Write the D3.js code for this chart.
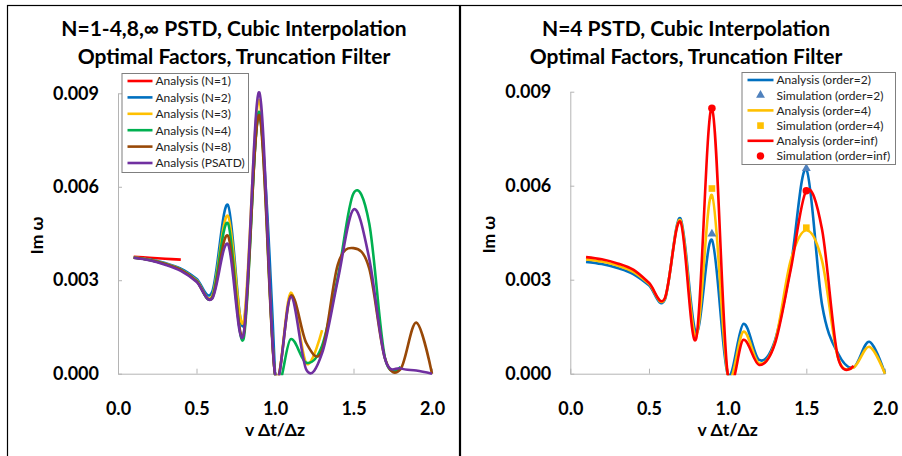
<!DOCTYPE html>
<html>
<head>
<meta charset="utf-8">
<script src="https://cdn.jsdelivr.net/npm/d3@7.9.0/dist/d3.min.js"></script>
<style>
  body { margin: 0; background: #fff; }
  svg { display: block; font-family: Lato, "Open Sans", sans-serif; }
</style>
</head>
<body>
<svg id="chart" width="902" height="456"></svg>
<script>
// x values shared by every series (v Δt/Δz)
const xValues = [0.1, 0.2, 0.3, 0.4, 0.5, 0.6, 0.7, 0.8, 0.9, 1.0,
                 1.1, 1.2, 1.3, 1.4, 1.5, 1.6, 1.7, 1.8, 1.9, 2.0];

const xTicks = [0, 0.5, 1.0, 1.5, 2.0];
const yTicks = [0, 0.003, 0.006, 0.009];

// Left chart: N=1-4,8,inf PSTD
const leftNames = ['Analysis (N=1)', 'Analysis (N=2)', 'Analysis (N=3)',
                   'Analysis (N=4)', 'Analysis (N=8)', 'Analysis (PSATD)'];
const n1 = [0.00375, 0.00372, 0.00369, 0.00366];
const n2 = [0.00373, 0.00367, 0.00355, 0.00337, 0.00305, 0.00263, 0.00542, 0.00156, 0.0083, 0.0];
const n3 = [0.00373, 0.00366, 0.00353, 0.00334, 0.00300, 0.00250, 0.00507, 0.00167, 0.00878, 0.0,
            0.00260, 0.00033, 0.00140];
const n4 = [0.00372, 0.00365, 0.00352, 0.00333, 0.00298, 0.00245, 0.00483, 0.00112, 0.00840, 0.0,
            0.00111, 0.00035, 0.00090, 0.00310, 0.00579, 0.00483, 0.00052, 0.00022];
const n8 = [0.00372, 0.00365, 0.00352, 0.00333, 0.00297, 0.00243, 0.00443, 0.00125, 0.00830, 0.0,
            0.00250, 0.00098, 0.00074, 0.00350, 0.00403, 0.00338, 0.00050, 0.00015, 0.00164, 0.0];
const psatd = [0.00372, 0.00364, 0.00350, 0.00330, 0.00295, 0.00241, 0.00416, 0.00127, 0.00903, 0.0,
               0.00247, 0.00012, 0.00066, 0.00300, 0.00527, 0.00370, 0.00049, 0.00017, 0.00010, 0.0];
const leftColors = ['#ff0000', '#0070c0', '#ffc000', '#00b050', '#984807', '#7030a0'];

// Right chart: N=4 PSTD, filter order
const rightNames = ['Analysis (order=2)', 'Simulation (order=2)', 'Analysis (order=4)',
                    'Simulation (order=4)', 'Analysis (order=inf)', 'Simulation (order=inf)'];
const order2 = [0.00357, 0.00350, 0.00337, 0.00318, 0.00282, 0.00235, 0.00496, 0.00131, 0.00427, 0.0,
                0.00159, 0.00044, 0.00105, 0.00340, 0.00652, 0.00220, 0.00066, 0.00020, 0.00102, 0.0];
const order4 = [0.00365, 0.00358, 0.00345, 0.00325, 0.00287, 0.00238, 0.00490, 0.00120, 0.00570, 0.0,
                0.00134, 0.00033, 0.00100, 0.00360, 0.00458, 0.00360, 0.00054, 0.00020, 0.00086, 0.0];
const orderInf = [0.00372, 0.00365, 0.00352, 0.00332, 0.00290, 0.00240, 0.00485, 0.00112, 0.00847, 0.0,
                  0.00108, 0.00028, 0.00095, 0.00330, 0.00584, 0.00460, 0.00054, 0.00025];
const simX = [0.9, 1.5];
const sim2 = [0.00446, 0.00655];
const sim4 = [0.00591, 0.00466];
const simInf = [0.00847, 0.00584];
const rightColors = ['#0070c0', '#4f81bd', '#ffc000', '#ffc000', '#ff0000', '#ff0000'];

const svg = d3.select('#chart');

// Panel frames
svg.append('rect').attr('x', 7.5).attr('y', 5.5).attr('width', 452).attr('height', 480)
  .attr('fill', 'none').attr('stroke', '#000').attr('stroke-width', 1.2);
svg.append('rect').attr('x', 460.5).attr('y', 5.5).attr('width', 460).attr('height', 480)
  .attr('fill', 'none').attr('stroke', '#000').attr('stroke-width', 1.2);

function toPoints(vals) {
  return vals.map((v, i) => [xValues[i], v]);
}

function drawPanel(cfg) {
  const g = svg.append('g');
  const x = d3.scaleLinear().domain([0, 2]).range([cfg.left, cfg.right]);
  const y = d3.scaleLinear().domain([0, 0.009]).range([cfg.bottom, cfg.top]);

  // titles
  cfg.title.forEach((t, i) => {
    g.append('text')
      .attr('x', cfg.titleX).attr('y', 36 + i * 27.5)
      .attr('text-anchor', 'middle')
      .style('font-weight', 700).style('font-size', '21px')
      .text(t);
  });

  // axes
  const xAxis = g.append('g')
    .attr('transform', `translate(0,${cfg.bottom})`)
    .call(d3.axisBottom(x).tickValues(xTicks).tickFormat(d3.format('.1f'))
      .tickSizeInner(-5).tickSizeOuter(0).tickPadding(29));
  const yAxis = g.append('g')
    .attr('transform', `translate(${cfg.left},0)`)
    .call(d3.axisLeft(y).tickValues(yTicks).tickFormat(d3.format('.3f'))
      .tickSizeInner(-4).tickSizeOuter(0).tickPadding(19));
  [xAxis, yAxis].forEach(a => {
    a.select('.domain').attr('stroke', '#b4b4b4');
    a.selectAll('.tick line').attr('stroke', '#b4b4b4');
    a.selectAll('text').attr('fill', '#000')
      .style('font-family', 'Lato, sans-serif')
      .style('font-weight', 700).style('font-size', '18px');
  });

  g.append('text')
    .attr('x', (cfg.left + cfg.right) / 2).attr('y', 436)
    .attr('text-anchor', 'middle')
    .style('font-weight', 700).style('font-size', '17.5px')
    .text('v Δt/Δz');
  g.append('text')
    .attr('transform', `translate(${cfg.left - 75},${(cfg.top + cfg.bottom) / 2 + 2}) rotate(-90)`)
    .attr('text-anchor', 'middle')
    .style('font-weight', 700).style('font-size', '17.5px')
    .text('Im ω');

  // plot clip
  const clipId = 'clip' + Math.round(cfg.left);
  svg.append('clipPath').attr('id', clipId)
    .append('rect').attr('x', cfg.left).attr('y', cfg.top - 20)
    .attr('width', cfg.right - cfg.left + 10).attr('height', cfg.bottom - cfg.top + 21.5);

  const line = d3.line()
    .x(d => x(d[0])).y(d => y(d[1]))
    .curve(d3.curveCardinal.tension(0));

  const plot = g.append('g').attr('clip-path', `url(#${clipId})`);
  cfg.series.forEach(s => {
    if (s.line) {
      plot.append('path')
        .datum(toPoints(s.values))
        .attr('d', line)
        .attr('fill', 'none')
        .attr('stroke', s.color)
        .attr('stroke-width', 2.6)
        .attr('stroke-linejoin', 'round');
    } else {
      const sym = d3.symbol().type(s.marker).size(s.size);
      g.selectAll(null)
        .data(s.values.map((v, i) => [simX[i], v]))
        .join('path')
        .attr('transform', d => `translate(${x(d[0])},${y(d[1])})`)
        .attr('d', sym)
        .attr('fill', s.color);
    }
  });

  // legend
  const lg = g.append('g');
  lg.append('rect')
    .attr('x', cfg.legend.x + 0.5).attr('y', cfg.legend.y + 0.5)
    .attr('width', cfg.legend.w).attr('height', cfg.legend.h)
    .attr('fill', '#fff').attr('stroke', '#7f7f7f').attr('stroke-width', 1);
  cfg.series.forEach((s, i) => {
    const ry = cfg.legend.y + cfg.legend.row0 + i * cfg.legend.step;
    const lx = cfg.legend.x + 6;
    if (s.line) {
      lg.append('line')
        .attr('x1', lx).attr('x2', lx + cfg.legend.sample)
        .attr('y1', ry).attr('y2', ry)
        .attr('stroke', s.color).attr('stroke-width', 2.6);
    } else {
      lg.append('path')
        .attr('transform', `translate(${lx + cfg.legend.sample / 2},${ry})`)
        .attr('d', d3.symbol().type(s.marker).size(s.size))
        .attr('fill', s.color);
    }
    lg.append('text')
      .attr('x', lx + cfg.legend.sample + 3).attr('y', ry + 4.3)
      .style('font-size', cfg.legend.font)
      .attr('fill', '#222')
      .text(s.name);
  });
}

drawPanel({
  left: 118, right: 432, top: 93.3, bottom: 373.7, titleX: 234,
  title: ['N=1-4,8,∞ PSTD, Cubic Interpolation', 'Optimal Factors, Truncation Filter'],
  series: [n1, n2, n3, n4, n8, psatd].map((v, i) => ({
    name: leftNames[i], values: v, color: leftColors[i], line: true
  })),
  legend: { x: 121.5, y: 73, w: 126.5, h: 99, row0: 8, step: 16.4, sample: 25, font: '12px' }
});

drawPanel({
  left: 570.3, right: 885, top: 91.7, bottom: 373.7, titleX: 686,
  title: ['N=4 PSTD, Cubic Interpolation', 'Optimal Factors, Truncation Filter'],
  series: [
    { name: rightNames[0], values: order2, color: rightColors[0], line: true },
    { name: rightNames[1], values: sim2, color: rightColors[1], marker: d3.symbolTriangle, size: 34 },
    { name: rightNames[2], values: order4, color: rightColors[2], line: true },
    { name: rightNames[3], values: sim4, color: rightColors[3], marker: d3.symbolSquare, size: 44 },
    { name: rightNames[4], values: orderInf, color: rightColors[4], line: true },
    { name: rightNames[5], values: simInf, color: rightColors[5], marker: d3.symbolCircle, size: 44 }
  ],
  legend: { x: 741.5, y: 72, w: 153.5, h: 92, row0: 8, step: 15.2, sample: 26, font: '12px' }
});
</script>
</body>
</html>
